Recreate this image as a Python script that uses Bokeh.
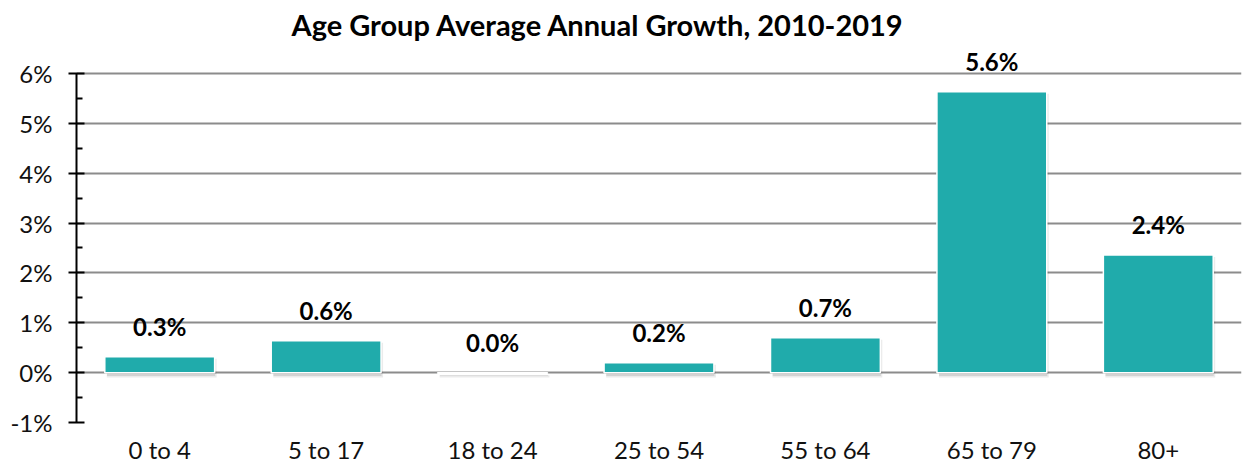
from bokeh.plotting import figure
from bokeh.models import ColumnDataSource, FactorRange, Range1d, PrintfTickFormatter, FixedTicker, Title
from bokeh.transform import dodge
from bokeh.core.properties import value
from bokeh.embed import file_html
from bokeh.resources import INLINE

categories = ["0 to 4", "5 to 17", "18 to 24", "25 to 54", "55 to 64", "65 to 79", "80+"]
growth = [0.32, 0.64, -0.01, 0.2, 0.7, 5.63, 2.36]
labels = ["0.3%", "0.6%", "0.0%", "0.2%", "0.7%", "5.6%", "2.4%"]
y_ticks = [-1, 0, 1, 2, 3, 4, 5, 6]
y_minor = [-0.5, 0.5, 1.5, 2.5, 3.5, 4.5, 5.5]

FONT = "Lato"
TEAL = "#20ABAB"

label_y = [max(v, 0) for v in growth]
shadow_top = [v - 0.04 for v in growth]
src = ColumnDataSource(dict(cat=categories, val=growth, lab=labels, ly=label_y, st=shadow_top))

p = figure(x_range=FactorRange(*categories), y_range=Range1d(-1, 6.6),
           width=1243, height=466, output_backend="svg", toolbar_location=None,
           min_border_left=76, min_border_right=2, min_border_top=43, min_border_bottom=43)
p.outline_line_color = None
p.background_fill_color = "white"

title = Title(text="Age Group Average Annual Growth, 2010-2019", align="left", offset=215,
              text_font=FONT, text_font_size="29px", text_font_style="bold", text_color="#000000",
              standoff=4)
p.add_layout(title, "above")

# shadows
p.vbar(x=dodge("cat", 0.012, range=p.x_range), top="st", bottom=-0.1, width=0.66, source=src,
       fill_color="#000000", fill_alpha=0.08, line_color=None)
p.vbar(x=dodge("cat", 0.008, range=p.x_range), top="st", bottom=-0.07, width=0.65, source=src,
       fill_color="#000000", fill_alpha=0.1, line_color=None)

p.vbar(x="cat", top="val", bottom=0, width=0.66, source=src,
       fill_color=TEAL, line_color="white", line_width=1.5)

p.text(x="cat", y="ly", text="lab", source=src, text_font=value(FONT), text_font_size="24px",
       text_font_style="bold", text_color="#000000", text_align="center", text_baseline="alphabetic",
       y_offset=-30)

p.xgrid.grid_line_color = None
p.ygrid.ticker = FixedTicker(ticks=y_ticks)
p.ygrid.grid_line_color = "#8c8c8c"
p.ygrid.grid_line_width = 2

p.yaxis.ticker = FixedTicker(ticks=y_ticks, minor_ticks=y_minor)
p.yaxis.bounds = (-1, 6)
p.yaxis.formatter = PrintfTickFormatter(format="%d%%")
p.yaxis.axis_line_color = "#000000"
p.yaxis.axis_line_width = 2
p.yaxis.major_tick_line_width = 2
p.yaxis.major_tick_line_color = "#000000"
p.yaxis.major_tick_in = 8
p.yaxis.major_tick_out = 8
p.yaxis.minor_tick_line_width = 2
p.yaxis.minor_tick_line_color = "#000000"
p.yaxis.minor_tick_in = 6
p.yaxis.minor_tick_out = 0
p.yaxis.major_label_text_font = FONT
p.yaxis.major_label_text_font_size = "24px"
p.yaxis.major_label_text_color = "#111111"
p.yaxis.major_label_standoff = 16

p.xaxis.axis_line_color = None
p.xaxis.major_tick_line_color = None
p.xaxis.minor_tick_line_color = None
p.xaxis.major_label_text_font = FONT
p.xaxis.major_label_text_font_size = "24px"
p.xaxis.major_label_text_color = "#111111"
p.xaxis.major_label_standoff = 6

open("out.html", "w").write(file_html(p, INLINE))
